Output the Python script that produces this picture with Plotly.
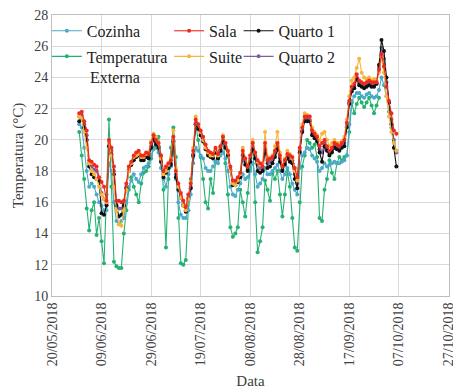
import pandas as pd
import plotly.graph_objects as go

start_date = "2018-05-31"

sala = [21.7, 21.8, 21.2, 20.6, 18.7, 18.6, 18.4, 18.3, 17.6, 17.3,
        17.0, 16.1, 20.0, 19.5, 18.3, 16.1, 16.1, 16.0, 16.1, 17.2,
        18.3, 18.6, 19.0, 19.2, 19.3, 19.0, 19.0, 19.2, 19.1, 19.8,
        20.3, 20.0, 19.8, 19.0, 18.0, 18.3, 18.5, 18.7, 20.2, 18.0,
        17.2, 16.6, 16.1, 15.7, 16.5, 17.2, 19.3, 21.3, 21.0, 20.6,
        20.2, 19.7, 19.3, 19.2, 19.1, 19.5, 19.1, 19.6, 20.2, 19.8,
        19.3, 18.3, 17.4, 17.4, 17.6, 17.9, 19.3, 18.8, 18.3, 19.0,
        19.8, 19.2, 18.7, 18.5, 18.3, 19.8, 18.7, 18.8, 18.9, 19.3,
        19.8, 19.0, 18.3, 18.7, 19.1, 19.0, 18.9, 18.2, 17.6, 19.5,
        20.8, 21.5, 21.5, 21.5, 20.6, 20.4, 20.2, 19.6, 19.8, 20.0,
        19.6, 19.3, 19.5, 19.8, 19.7, 19.6, 19.8, 20.0, 21.1, 22.5,
        23.4, 23.6, 24.2, 23.8, 23.7, 23.6, 23.7, 23.8, 23.7, 23.7,
        23.7, 24.5, 25.5, 24.7, 23.4, 22.5, 21.7, 20.6, 20.4]

externa = [20.5, 19.0, 17.5, 15.6, 14.2, 15.5, 16.0, 13.9, 15.0, 13.5,
           12.1, 16.5, 21.3, 17.0, 12.2, 11.9, 11.8, 11.8, 14.0, 15.5,
           16.8, 17.6, 17.0, 16.5, 16.0, 17.2, 17.9, 18.0, 18.3, 18.8,
           19.5, 19.9, 20.2, 19.0, 16.8, 13.1, 17.5, 19.5, 20.8, 18.9,
           15.0, 12.1, 12.0, 12.3, 15.5, 17.5, 18.9, 21.0, 20.0, 18.9,
           17.5, 16.0, 15.6, 17.5, 16.6, 18.6, 19.0, 19.5, 20.2, 18.5,
           16.5, 14.4, 13.8, 14.0, 14.4, 16.8, 16.0, 15.1, 16.6, 18.2,
           19.8, 16.0, 12.8, 13.5, 14.4, 17.4, 16.8, 16.1, 17.9, 17.5,
           18.0, 16.5, 15.1, 16.5, 18.0, 17.0, 15.0, 13.1, 12.9, 16.0,
           18.3, 19.0, 20.0, 19.8, 19.5, 19.7, 18.9, 15.0, 14.8, 16.8,
           17.5, 18.7, 17.9, 17.5, 18.5, 18.9, 18.7, 18.9, 19.0, 20.5,
           22.4, 21.7, 22.3, 22.7, 22.4, 22.1, 22.4, 22.7, 22.2, 21.7,
           22.2, 22.7]

cozinha = [21.0, 20.8, 19.5, 18.0, 17.0, 17.2, 17.0, 16.5, 16.0, 15.8,
           15.5, 15.5, 18.5, 18.0, 16.0, 14.8, 14.6, 14.8, 15.0, 16.0,
           17.0, 17.4, 17.8, 17.5, 17.3, 17.8, 18.2, 18.3, 18.5, 19.0,
           19.4, 19.5, 19.2, 18.2, 17.5, 17.0, 17.8, 18.3, 19.3, 17.5,
           16.0, 15.2, 15.0, 15.0, 15.5, 16.5, 18.5, 19.5, 19.3, 19.0,
           18.8, 18.2, 18.0, 18.0, 18.3, 18.6, 18.5, 19.0, 19.2, 18.8,
           18.0, 17.0, 16.5, 16.4, 16.8, 17.2, 17.8, 17.5, 17.6, 18.0,
           18.5, 17.8, 17.0, 17.2, 17.5, 18.2, 17.8, 17.8, 18.0, 18.2,
           18.4, 18.0, 17.5, 17.8, 18.2, 17.8, 17.2, 16.8, 16.5, 18.2,
           19.0, 19.2, 19.5, 19.4, 19.0, 18.8, 18.6, 18.0, 18.2, 18.5,
           18.3, 18.4, 18.5, 18.6, 18.5, 18.5, 18.6, 18.7, 19.0, 21.0,
           22.5, 22.8, 23.0, 23.0, 22.8, 22.7, 22.9, 23.0, 22.8, 22.7,
           22.8, 23.2, 24.0, 23.5, 22.8, 21.8, 20.8, 19.8, 19.3]

quarto1 = [21.2, 21.4, 20.8, 20.0, 18.3, 17.8, 17.6, 17.5, 17.4, 15.3,
           15.2, 15.8, 19.6, 19.1, 17.8, 15.8, 15.1, 15.2, 15.8, 16.9,
           18.0, 18.4, 18.7, 18.9, 19.0, 18.7, 18.7, 18.9, 18.8, 19.5,
           20.0, 19.7, 19.5, 18.6, 17.6, 17.9, 18.2, 18.4, 19.9, 17.6,
           16.8, 16.3, 15.8, 15.4, 16.2, 16.9, 19.0, 21.0, 20.7, 20.3,
           19.9, 19.4, 19.0, 18.9, 18.8, 19.2, 18.8, 19.3, 19.9, 19.5,
           19.0, 18.0, 17.1, 17.1, 17.3, 17.6, 19.0, 18.4, 18.0, 18.6,
           19.4, 18.8, 18.0, 17.9, 18.0, 19.4, 18.2, 18.3, 18.5, 18.9,
           19.4, 18.6, 18.0, 18.4, 18.8, 18.6, 18.5, 17.5, 16.9, 19.2,
           20.5, 21.2, 21.2, 21.2, 20.3, 20.1, 19.9, 19.2, 18.6, 19.6,
           19.3, 19.0, 19.2, 19.5, 19.4, 19.3, 19.5, 19.6, 20.8, 22.3,
           23.1, 23.3, 23.9, 23.5, 23.4, 23.3, 23.4, 23.5, 23.4, 23.4,
           23.6, 24.8, 26.4, 25.7, 24.0, 22.4, 21.0, 19.5, 18.3]

suite = [21.5, 21.4, 20.5, 19.5, 18.5, 18.0, 17.8, 17.5, 17.0, 16.5,
         16.2, 16.0, 19.8, 19.0, 17.0, 15.5, 14.6, 14.5, 15.5, 16.8,
         18.0, 18.5, 18.9, 19.0, 19.1, 18.9, 18.9, 19.1, 19.2, 19.9,
         20.4, 20.2, 19.8, 18.8, 17.8, 18.0, 18.4, 18.8, 20.6, 18.2,
         17.0, 16.3, 15.8, 15.5, 16.2, 17.3, 19.5, 21.5, 21.0, 20.5,
         20.0, 19.5, 19.2, 19.0, 19.0, 19.4, 19.0, 19.6, 20.3, 19.8,
         19.2, 18.0, 17.2, 17.1, 17.4, 17.8, 19.5, 18.8, 18.3, 19.0,
         20.0, 19.2, 18.6, 18.4, 18.5, 20.5, 18.9, 18.8, 19.0, 19.6,
         20.5, 19.2, 18.3, 18.8, 19.3, 19.1, 18.8, 18.0, 17.4, 19.5,
         21.0, 21.7, 21.6, 21.5, 20.8, 20.5, 20.3, 20.0, 20.4, 20.5,
         20.0, 19.6, 19.8, 20.0, 19.8, 19.8, 19.9, 20.2, 21.3, 22.8,
         23.8, 24.0, 24.6, 25.2, 24.3, 24.0, 23.9, 24.0, 23.8, 23.9,
         23.8, 24.3, 25.3, 24.3, 22.8, 21.5, 20.5, 19.8, 19.3]

quarto2 = [21.5, 21.6, 21.0, 20.3, 18.5, 18.3, 18.1, 18.0, 17.4, 16.6,
           16.2, 15.9, 19.8, 19.3, 18.0, 15.9, 15.6, 15.6, 15.9, 17.0,
           18.1, 18.4, 18.8, 19.0, 19.1, 18.8, 18.8, 19.0, 18.9, 19.6,
           20.1, 19.8, 19.6, 18.8, 17.8, 18.1, 18.3, 18.5, 20.0, 17.8,
           17.0, 16.4, 15.9, 15.5, 16.3, 17.0, 19.1, 21.1, 20.8, 20.4,
           20.0, 19.5, 19.1, 19.0, 18.9, 19.3, 18.9, 19.4, 20.0, 19.6,
           19.1, 18.1, 17.2, 17.2, 17.4, 17.7, 19.1, 18.6, 18.1, 18.8,
           19.6, 19.0, 18.4, 18.2, 18.1, 19.6, 18.5, 18.6, 18.7, 19.1,
           19.6, 18.8, 18.1, 18.5, 18.9, 18.8, 18.7, 17.8, 17.2, 19.3,
           20.6, 21.3, 21.3, 21.3, 20.4, 20.2, 20.0, 19.4, 19.2, 19.8,
           19.4, 19.1, 19.3, 19.6, 19.5, 19.4, 19.6, 19.8, 20.9, 22.4,
           23.2, 23.4, 24.0, 23.6, 23.5, 23.4, 23.5, 23.6, 23.5, 23.5,
           23.6, 24.6, 25.9, 25.2, 23.7, 22.4, 21.3, 20.0, 19.2]

FONT = "Liberation Serif"
TXT = "#404040"

def dates(n):
    return pd.date_range(start_date, periods=n, freq="D")

# (name, values, colour, legend id) in drawing order
series = [
    ("Temperatura", externa, "#25B271", "legend4"),
    ("Cozinha", cozinha, "#4AAAC8", "legend"),
    ("Quarto 2", quarto2, "#7E5F9E", "legend6"),
    ("Quarto 1", quarto1, "#111111", "legend3"),
    ("Suite", suite, "#F8B53A", "legend5"),
    ("Sala", sala, "#EE2A1E", "legend2"),
]

fig = go.Figure()
for name, vals, col, leg in series:
    fig.add_trace(go.Scatter(
        x=dates(len(vals)), y=vals, name=name, mode="lines+markers",
        line=dict(color=col, width=1.1),
        marker=dict(color=col, size=4),
        legend=leg, showlegend=True,
    ))

leg_common = dict(font=dict(family=FONT, size=16, color="#222"),
                  bgcolor="rgba(0,0,0,0)", orientation="v",
                  xanchor="left", yanchor="top", itemwidth=30)

col_x = [-0.013, 0.295, 0.47]
row_y = [1.004, 0.913]

fig.update_layout(
    width=453, height=390, showlegend=True,
    margin=dict(l=52, r=4, t=15, b=94, autoexpand=False),
    paper_bgcolor="white", plot_bgcolor="white",
    font=dict(family=FONT, size=14, color=TXT),
    legend=dict(x=col_x[0], y=row_y[0], **leg_common),
    legend2=dict(x=col_x[1], y=row_y[0], **leg_common),
    legend3=dict(x=col_x[2], y=row_y[0], **leg_common),
    legend4=dict(x=col_x[0], y=row_y[1], **leg_common),
    legend5=dict(x=col_x[1], y=row_y[1], **leg_common),
    legend6=dict(x=col_x[2], y=row_y[1], **leg_common),
    xaxis=dict(
        type="date", automargin=False,
        range=["2018-05-20", "2018-10-27 06:00"],
        tick0="2018-05-20", dtick=20 * 86400000,
        tickformat="%d/%m/%Y", tickangle=-90,
        ticklabeloverflow="allow",
        showgrid=True, gridcolor="#D9D9D9", gridwidth=1,
        showline=True, linecolor="#BFBFBF",
        ticks="", tickfont=dict(family=FONT, size=14, color=TXT),
        title=dict(text="Data", font=dict(family=FONT, size=15, color=TXT), standoff=10),
        mirror=True,
    ),
    yaxis=dict(
        range=[10, 28], dtick=2, automargin=False,
        showgrid=True, gridcolor="#D9D9D9", gridwidth=1,
        showline=True, linecolor="#BFBFBF", mirror=True,
        ticks="", tickfont=dict(family=FONT, size=14, color=TXT),
        title=dict(text="Temperatura (°C)", font=dict(family=FONT, size=15, color=TXT), standoff=6),
        zeroline=False,
    ),
    annotations=[dict(
        text="Externa", xref="paper", yref="paper", x=0.091, y=0.776,
        xanchor="left", yanchor="middle", showarrow=False,
        font=dict(family=FONT, size=16, color="#222"),
    )],
)

fig.write_html("out.html", config={"displayModeBar": False},
               post_script="document.body.style.margin='0';document.body.style.overflow='hidden';")
